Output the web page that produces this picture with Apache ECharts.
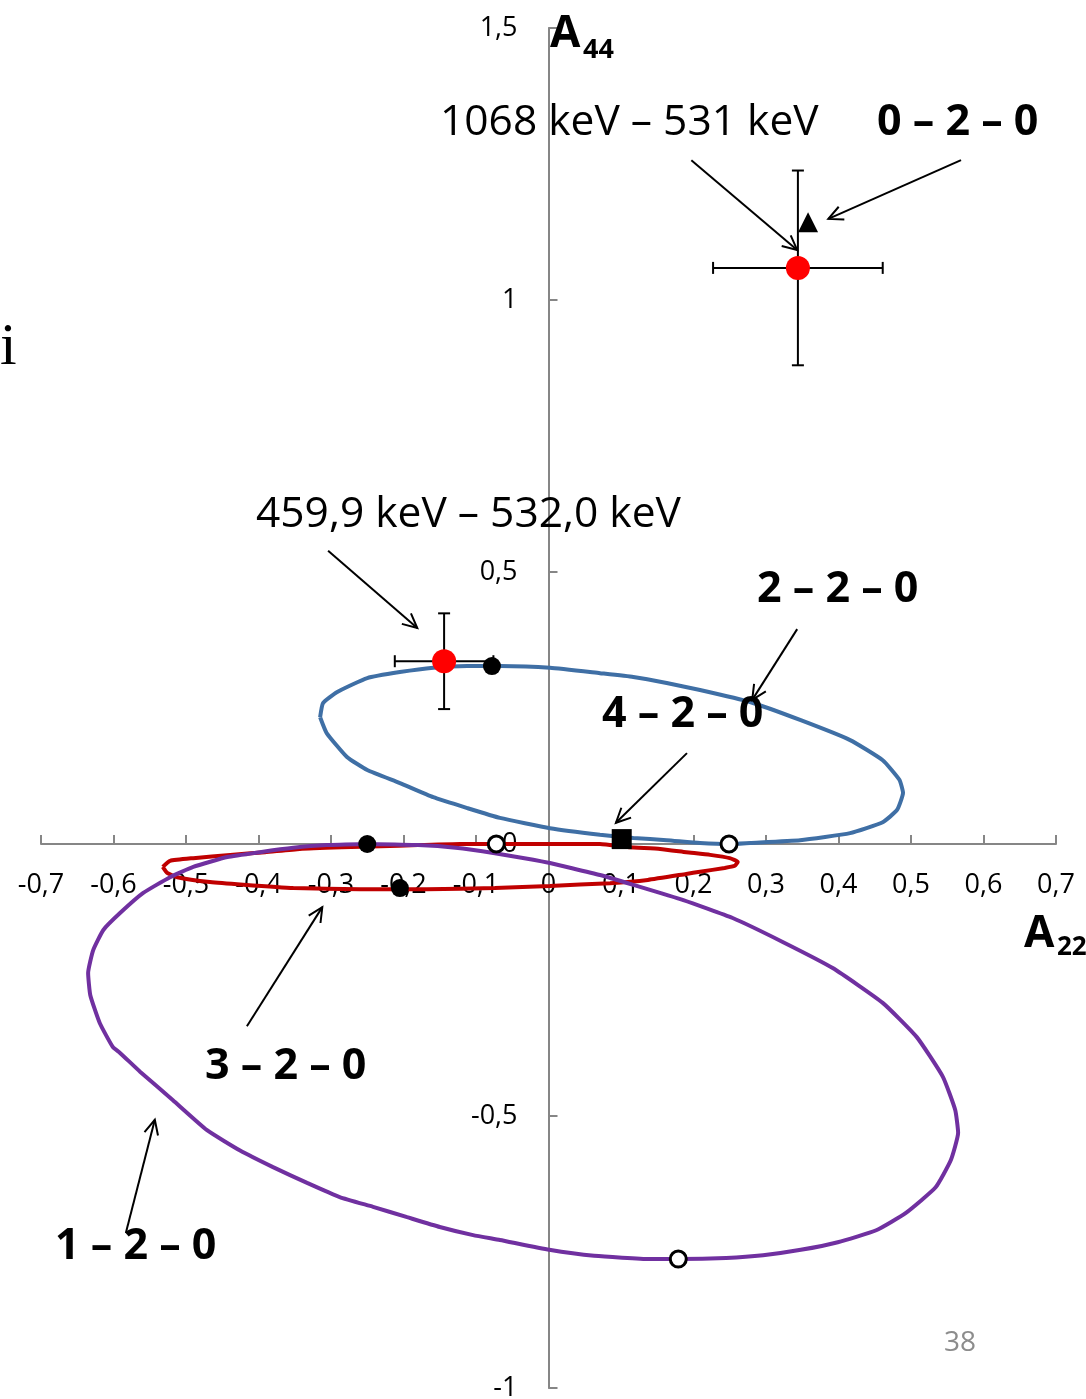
<!DOCTYPE html>
<html>
<head>
<meta charset="utf-8">
<script src="https://cdn.jsdelivr.net/npm/echarts@6/dist/echarts.min.js"></script>
<style>
  html, body { margin: 0; padding: 0; background: #fff; }
  #chart { width: 1086px; height: 1399px; }
</style>
</head>
<body>
<div id="chart"></div>
<script>
// Axis ranges and ticks
const xTicks = { min: -0.7, max: 0.7, step: 0.1 };
const yTicks = { min: -1, max: 1.5, step: 0.5 };

// Theoretical (A22, A44) loops for the cascades
const loop220 = [
  [-0.315, 0.233], [-0.311, 0.259], [-0.292, 0.279], [-0.250, 0.305], [-0.205, 0.316],
  [-0.159, 0.324], [-0.112, 0.327], [-0.067, 0.327], [0.002, 0.324], [0.071, 0.314],
  [0.117, 0.307], [0.163, 0.296], [0.209, 0.283], [0.278, 0.261], [0.347, 0.228],
  [0.416, 0.191], [0.461, 0.154], [0.484, 0.118], [0.489, 0.094], [0.481, 0.063],
  [0.461, 0.040], [0.416, 0.020], [0.347, 0.007], [0.278, 0.002], [0.250, 0.000],
  [0.209, 0.002], [0.163, 0.007], [0.117, 0.011], [0.071, 0.017], [0.002, 0.029],
  [-0.067, 0.048], [-0.112, 0.066], [-0.159, 0.086], [-0.205, 0.112], [-0.250, 0.136],
  [-0.278, 0.160], [-0.306, 0.204], [-0.315, 0.233]
];
const loop320 = [
  [-0.532, -0.042], [-0.522, -0.031], [-0.490, -0.026], [-0.439, -0.020], [-0.391, -0.015],
  [-0.343, -0.009], [-0.285, -0.006], [-0.232, -0.004], [-0.180, -0.002], [-0.122, 0.000],
  [-0.074, 0.000], [0.002, 0.000], [0.071, 0.000], [0.111, -0.006], [0.154, -0.009],
  [0.190, -0.015], [0.223, -0.020], [0.250, -0.026], [0.261, -0.033], [0.257, -0.040],
  [0.243, -0.044], [0.209, -0.051], [0.190, -0.055], [0.137, -0.066], [0.085, -0.072],
  [0.002, -0.077], [-0.074, -0.081], [-0.168, -0.083], [-0.260, -0.083], [-0.352, -0.081],
  [-0.421, -0.075], [-0.467, -0.070], [-0.512, -0.061], [-0.526, -0.053], [-0.532, -0.042]
];
const loop120 = [
  [-0.250, 0.000], [-0.180, -0.002], [-0.128, -0.007], [-0.074, -0.017], [-0.021, -0.029],
  [0.002, -0.035], [0.031, -0.044], [0.071, -0.057], [0.117, -0.075], [0.186, -0.103],
  [0.254, -0.136], [0.323, -0.180], [0.392, -0.228], [0.461, -0.292], [0.508, -0.355],
  [0.544, -0.428], [0.561, -0.489], [0.565, -0.531], [0.555, -0.581], [0.534, -0.631],
  [0.493, -0.678], [0.452, -0.710], [0.399, -0.732], [0.348, -0.746], [0.296, -0.756],
  [0.245, -0.761], [0.180, -0.763], [0.140, -0.763], [0.063, -0.757], [0.001, -0.746],
  [-0.067, -0.728], [-0.104, -0.719], [-0.150, -0.704], [-0.195, -0.686], [-0.242, -0.667],
  [-0.288, -0.649], [-0.333, -0.623], [-0.380, -0.594], [-0.426, -0.563], [-0.471, -0.526],
  [-0.518, -0.471], [-0.563, -0.419], [-0.591, -0.384], [-0.601, -0.373], [-0.619, -0.329],
  [-0.632, -0.278], [-0.635, -0.237], [-0.628, -0.195], [-0.614, -0.158], [-0.591, -0.127],
  [-0.559, -0.090], [-0.522, -0.061], [-0.490, -0.042], [-0.443, -0.024], [-0.398, -0.015],
  [-0.352, -0.007], [-0.306, -0.002], [-0.250, 0.000]
];

// Measured correlations: [A22, A44, dA22, dA44]
const measured = [
  [0.344, 1.059, 0.117, 0.179],   // 1068 keV – 531 keV
  [-0.144, 0.336, 0.068, 0.088]   // 459,9 keV – 532,0 keV
];

// Special points on the loops
const pts020 = [[0.358, 1.143]];
const pts420 = [[0.101, 0.009]];
const filledPts = [[-0.078, 0.327], [-0.250, 0.000], [-0.205, -0.081]];
const openPts = [[-0.072, 0.000], [0.249, 0.000], [0.179, -0.763]];

// Annotation arrows: [fromX, fromY, toX, toY]
const arrows = [
  [0.197, 1.257, 0.343, 1.092],
  [0.569, 1.257, 0.386, 1.149],
  [-0.304, 0.539, -0.181, 0.397],
  [0.343, 0.395, 0.281, 0.265],
  [0.191, 0.167, 0.093, 0.039],
  [-0.416, -0.335, -0.312, -0.116],
  [-0.583, -0.715, -0.543, -0.507]
];

const FONT = '"Open Sans", Lato, "Noto Sans", sans-serif';
const AXIS_COLOR = '#868686';

// Plot area
const W = 1086, H = 1399;
const G = { left: 41, right: 30, top: 28, bottom: 11 };
const gridW = W - G.left - G.right;
const gridH = H - G.top - G.bottom;
// axes cross at the origin: shift them from the grid edges
const xAxisOffset = -((0 - yTicks.min) / (yTicks.max - yTicks.min)) * gridH;
const yAxisOffset = -((0 - xTicks.min) / (xTicks.max - xTicks.min)) * gridW;

function fmt(v) {
  const r = Math.round(v * 10) / 10;
  return String(r).replace('.', ',');
}

const chart = echarts.init(document.getElementById('chart'), null, { renderer: 'canvas' });

function text(str, x, y, size, opts) {
  opts = opts || {};
  return {
    type: 'text', z: 100,
    style: {
      text: str, x: x, y: y,
      fontFamily: opts.family || FONT,
      fontSize: size,
      fontWeight: opts.bold ? 'bold' : 'normal',
      fill: opts.color || '#000',
      align: opts.align || 'left',
      verticalAlign: 'middle'
    }
  };
}

const option = {
  animation: false,
  backgroundColor: '#fff',
  grid: {
    left: G.left, right: G.right, top: G.top, bottom: G.bottom,
    containLabel: false, outerBoundsMode: 'none'
  },
  xAxis: {
    type: 'value', min: xTicks.min, max: xTicks.max, interval: xTicks.step,
    position: 'bottom', offset: xAxisOffset,
    axisLine: { onZero: false, lineStyle: { color: AXIS_COLOR, width: 2 } },
    axisTick: { inside: true, length: 9, lineStyle: { color: AXIS_COLOR, width: 2 } },
    axisLabel: { margin: 28, fontSize: 27, color: '#000', fontFamily: FONT, formatter: fmt },
    splitLine: { show: false }
  },
  yAxis: {
    type: 'value', min: yTicks.min, max: yTicks.max, interval: yTicks.step,
    position: 'left', offset: yAxisOffset,
    axisLine: { onZero: false, lineStyle: { color: AXIS_COLOR, width: 2 } },
    axisTick: { inside: true, length: 9, lineStyle: { color: AXIS_COLOR, width: 2 } },
    axisLabel: { margin: 31, fontSize: 27, color: '#000', fontFamily: FONT, formatter: fmt },
    splitLine: { show: false }
  },
  series: [
    {
      type: 'line', name: '3 – 2 – 0', data: loop320, showSymbol: false, smooth: 0.15,
      lineStyle: { color: '#c00000', width: 4 }, z: 2
    },
    {
      type: 'line', name: '1 – 2 – 0', data: loop120, showSymbol: false, smooth: 0.15,
      lineStyle: { color: '#7030a0', width: 4 }, z: 3
    },
    {
      type: 'line', name: '2 – 2 – 0', data: loop220, showSymbol: false, smooth: 0.15,
      lineStyle: { color: '#3f6fa5', width: 4 }, z: 4
    },
    {
      // error bars of the measured points
      type: 'custom', data: measured, z: 5,
      encode: { x: 0, y: 1 },
      renderItem: function (params, api) {
        const x = api.value(0), y = api.value(1), ex = api.value(2), ey = api.value(3);
        const l = api.coord([x - ex, y]), r = api.coord([x + ex, y]);
        const t = api.coord([x, y + ey]), b = api.coord([x, y - ey]);
        const cap = 6;
        const st = { stroke: '#000', lineWidth: 2 };
        const seg = (x1, y1, x2, y2) => ({ type: 'line', shape: { x1, y1, x2, y2 }, style: st });
        return {
          type: 'group', children: [
            seg(l[0], l[1], r[0], r[1]),
            seg(l[0], l[1] - cap, l[0], l[1] + cap),
            seg(r[0], r[1] - cap, r[0], r[1] + cap),
            seg(t[0], t[1], b[0], b[1]),
            seg(t[0] - cap, t[1], t[0] + cap, t[1]),
            seg(b[0] - cap, b[1], b[0] + cap, b[1])
          ]
        };
      }
    },
    {
      // annotation arrows with open heads
      type: 'custom', data: arrows, z: 6,
      encode: { x: [0, 2], y: [1, 3] },
      renderItem: function (params, api) {
        const p0 = api.coord([api.value(0), api.value(1)]);
        const p1 = api.coord([api.value(2), api.value(3)]);
        const ang = Math.atan2(p1[1] - p0[1], p1[0] - p0[0]);
        const len = 16, spread = 0.45;
        const st = { stroke: '#000', lineWidth: 2 };
        const h1 = [p1[0] - len * Math.cos(ang - spread), p1[1] - len * Math.sin(ang - spread)];
        const h2 = [p1[0] - len * Math.cos(ang + spread), p1[1] - len * Math.sin(ang + spread)];
        return {
          type: 'group', children: [
            { type: 'line', shape: { x1: p0[0], y1: p0[1], x2: p1[0], y2: p1[1] }, style: st },
            { type: 'polyline', shape: { points: [h1, p1, h2] }, style: Object.assign({ fill: null }, st) }
          ]
        };
      }
    },
    {
      type: 'scatter', name: 'measured', data: measured.map(m => [m[0], m[1]]), z: 8,
      symbol: 'circle', symbolSize: 24, itemStyle: { color: '#ff0000', opacity: 1 }
    },
    {
      type: 'scatter', name: '0 – 2 – 0', data: pts020, z: 8,
      symbol: 'triangle', symbolSize: 20, itemStyle: { color: '#000', opacity: 1 }
    },
    {
      type: 'scatter', name: '4 – 2 – 0', data: pts420, z: 8,
      symbol: 'rect', symbolSize: 20, itemStyle: { color: '#000', opacity: 1 }
    },
    {
      type: 'scatter', data: filledPts, z: 8,
      symbol: 'circle', symbolSize: 18, itemStyle: { color: '#000', opacity: 1 }
    },
    {
      type: 'scatter', data: openPts, z: 8,
      symbol: 'circle', symbolSize: 16,
      itemStyle: { color: '#fff', borderColor: '#000', borderWidth: 3, opacity: 1 }
    }
  ],
  graphic: [
    text('1068 keV \u2013 531 keV', 440, 123, 42.5),
    text('0 \u2013 2 \u2013 0', 877, 123, 43, { bold: true }),
    text('459,9 keV \u2013 532,0 keV', 256, 515, 42.5),
    text('2 \u2013 2 \u2013 0', 757, 590, 43, { bold: true }),
    text('4 \u2013 2 \u2013 0', 602, 715, 43, { bold: true }),
    text('3 \u2013 2 \u2013 0', 205, 1067, 43, { bold: true }),
    text('1 \u2013 2 \u2013 0', 55, 1247, 43, { bold: true }),
    text('A', 550, 34, 44, { bold: true }),
    text('44', 583, 50, 27, { bold: true }),
    text('A', 1024, 934, 44, { bold: true }),
    text('22', 1057, 948, 26, { bold: true }),
    text('i', 0, 348, 60, { family: '"Liberation Serif", "DejaVu Serif", serif' }),
    text('38', 960, 1343, 28, { align: 'center', color: '#8c8c8c' })
  ]
};

chart.setOption(option);
</script>
</body>
</html>
